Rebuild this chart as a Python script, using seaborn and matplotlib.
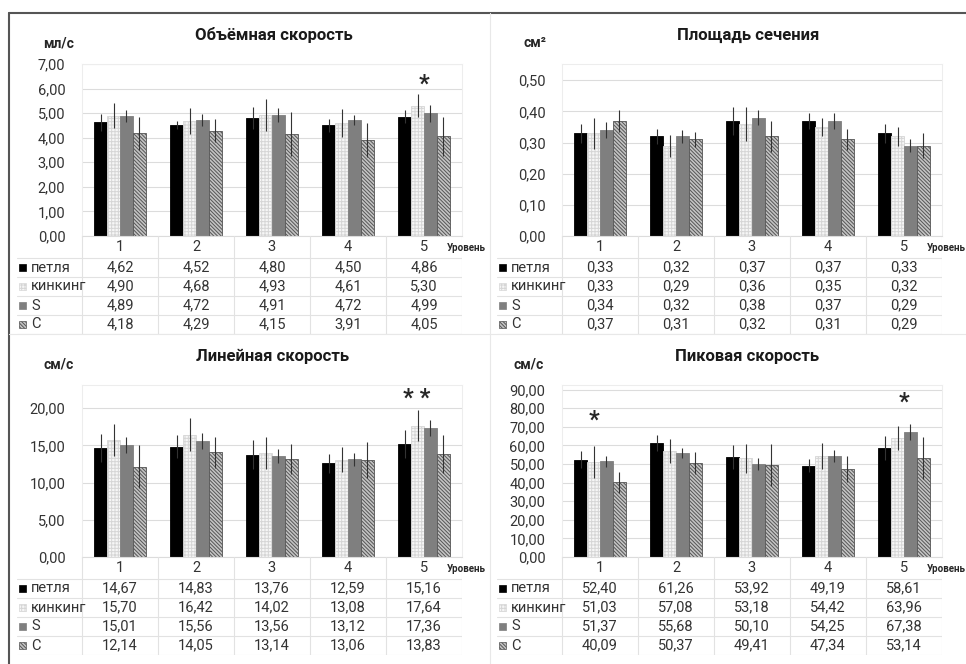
import numpy as np
import pandas as pd
import matplotlib
matplotlib.use("Agg")
import matplotlib.pyplot as plt
import seaborn as sns
from matplotlib.patches import Rectangle
from matplotlib.lines import Line2D
from matplotlib.ticker import FuncFormatter, MultipleLocator

# ==========================
#  Данные
# ==========================
levels = ["1", "2", "3", "4", "5"]
series = ["петля", "кинкинг", "S", "C"]

# Объёмная скорость, мл/с
vol_petlya = [4.62, 4.52, 4.80, 4.50, 4.86]
vol_kinking = [4.90, 4.68, 4.93, 4.61, 5.30]
vol_s = [4.89, 4.72, 4.91, 4.72, 4.99]
vol_c = [4.18, 4.29, 4.15, 3.91, 4.05]
vol_err_petlya = [0.35, 0.18, 0.45, 0.28, 0.28]
vol_err_kinking = [0.50, 0.52, 0.64, 0.57, 0.47]
vol_err_s = [0.25, 0.24, 0.28, 0.21, 0.35]
vol_err_c = [0.66, 0.48, 0.88, 0.68, 0.79]

# Площадь сечения, см²
area_petlya = [0.33, 0.32, 0.37, 0.37, 0.33]
area_kinking = [0.33, 0.29, 0.36, 0.35, 0.32]
area_s = [0.34, 0.32, 0.38, 0.37, 0.29]
area_c = [0.37, 0.31, 0.32, 0.31, 0.29]
area_err_petlya = [0.030, 0.025, 0.045, 0.025, 0.030]
area_err_kinking = [0.050, 0.035, 0.055, 0.030, 0.030]
area_err_s = [0.025, 0.020, 0.025, 0.025, 0.020]
area_err_c = [0.035, 0.025, 0.050, 0.035, 0.040]

# Линейная скорость, см/с
lin_petlya = [14.67, 14.83, 13.76, 12.59, 15.16]
lin_kinking = [15.70, 16.42, 14.02, 13.08, 17.64]
lin_s = [15.01, 15.56, 13.56, 13.12, 17.36]
lin_c = [12.14, 14.05, 13.14, 13.06, 13.83]
lin_err_petlya = [1.85, 1.55, 2.00, 1.30, 1.90]
lin_err_kinking = [2.15, 2.20, 2.15, 1.65, 2.05]
lin_err_s = [1.10, 1.10, 0.95, 0.90, 1.10]
lin_err_c = [2.85, 2.10, 2.00, 2.45, 2.50]

# Пиковая скорость, см/с
peak_petlya = [52.40, 61.26, 53.92, 49.19, 58.61]
peak_kinking = [51.03, 57.08, 53.18, 54.42, 63.96]
peak_s = [51.37, 55.68, 50.10, 54.25, 67.38]
peak_c = [40.09, 50.37, 49.41, 47.34, 53.14]
peak_err_petlya = [4.4, 4.4, 6.5, 3.4, 6.7]
peak_err_kinking = [8.5, 6.4, 7.8, 6.9, 6.4]
peak_err_s = [2.9, 2.7, 3.2, 3.4, 4.4]
peak_err_c = [5.7, 5.9, 11.3, 6.9, 11.4]

titles = ["Объёмная скорость", "Площадь сечения", "Линейная скорость", "Пиковая скорость"]
units = ["мл/с", "см²", "см/с", "см/с"]

# звёздочки значимости: (позиция уровня, высота, текст)
stars_vol = [(4.0, 6.2, "*")]
stars_area = []
stars_lin = [(3.9, 21.3, "* *")]
stars_peak = [(-0.08, 73.5, "*"), (4.0, 83.5, "*")]

panels = [
    ([vol_petlya, vol_kinking, vol_s, vol_c],
     [vol_err_petlya, vol_err_kinking, vol_err_s, vol_err_c], stars_vol),
    ([area_petlya, area_kinking, area_s, area_c],
     [area_err_petlya, area_err_kinking, area_err_s, area_err_c], stars_area),
    ([lin_petlya, lin_kinking, lin_s, lin_c],
     [lin_err_petlya, lin_err_kinking, lin_err_s, lin_err_c], stars_lin),
    ([peak_petlya, peak_kinking, peak_s, peak_c],
     [peak_err_petlya, peak_err_kinking, peak_err_s, peak_err_c], stars_peak),
]

# ==========================
#  Оформление
# ==========================
sns.set_theme(style="white")
plt.rcParams["font.family"] = ["Roboto", "DejaVu Sans"]
plt.rcParams["hatch.linewidth"] = 0.7

W, H = 966, 664
TXT = "#333333"
GRID = "#dcdcdc"

styles = {
    "петля": dict(fc="#000000", ec="#000000", hatch=None),
    "кинкинг": dict(fc="#f6f6f6", ec="#d6d6d6", hatch="+++++"),
    "S": dict(fc="#7f7f7f", ec="#7f7f7f", hatch=None),
    "C": dict(fc="#c4c4c4", ec="#555555", hatch="\\\\\\\\\\\\\\\\\\"),
}

ylims = [7.0, 0.552, 23.1, 92.5]
steps = [1.0, 0.1, 5.0, 10.0]
offsets = [(0, 0), (480, 0), (0, 321), (480, 321)]
unit_x = [43, 523, 43, 513]
title_x = [274, 748, 273, 747]


def rect(left, top, right, bottom):
    return [left / W, 1 - bottom / H, (right - left) / W, (bottom - top) / H]


comma = FuncFormatter(lambda v, p: f"{v:.2f}".replace(".", ","))

fig = plt.figure(figsize=(W / 100, H / 100), dpi=100)

for k, (values, errors, stars) in enumerate(panels):
    dx, dy = offsets[k]
    bl, bt, br, bb = 82 + dx, 64 + dy, 462 + dx, 236 + dy
    ax = fig.add_axes(rect(bl, bt, br, bb))

    df = pd.DataFrame({
        "level": np.tile(levels, len(series)),
        "series": np.repeat(series, len(levels)),
        "value": np.concatenate(values),
    })
    sns.barplot(data=df, x="level", y="value", hue="series", order=levels,
                hue_order=series, width=0.68, errorbar=None, legend=False,
                palette=[styles[s]["fc"] for s in series], ax=ax)

    for j, s in enumerate(series):
        st = styles[s]
        bars = ax.containers[j]
        for b in bars:
            b.set_facecolor(st["fc"])
            b.set_edgecolor(st["ec"])
            b.set_linewidth(0.6)
            if st["hatch"]:
                b.set_hatch(st["hatch"])
        xs = [b.get_x() + b.get_width() / 2 for b in bars]
        ys = [b.get_height() for b in bars]
        ax.errorbar(xs, ys, yerr=errors[j], fmt="none", ecolor="#333333",
                    elinewidth=0.8, capsize=0, zorder=5)

    ax.set_xlim(-0.5, 4.5)
    ax.set_ylim(0, ylims[k])
    ax.yaxis.set_major_locator(MultipleLocator(steps[k]))
    ax.yaxis.set_major_formatter(comma)
    ax.yaxis.grid(True, color=GRID, lw=0.8)
    ax.set_axisbelow(True)
    ax.set_xticks([])
    ax.set_xlabel("")
    ax.set_ylabel("")
    ax.tick_params(axis="y", length=0, pad=12, labelsize=10.5, labelcolor=TXT)
    for name, sp in ax.spines.items():
        sp.set_color("#ededed" if name != "bottom" else GRID)
        sp.set_linewidth(0.8)

    for sx, sy, st_txt in stars:
        ax.text(sx, sy, st_txt, ha="center", va="center", fontsize=17,
                fontweight="bold", color="#262626")

    fig.text(title_x[k] / W, 1 - (35 + dy) / H, titles[k], ha="center",
             va="center", fontsize=12, fontweight="bold", color="#1a1a1a")
    fig.text(unit_x[k] / W, 1 - (43 + dy) / H, units[k], ha="left",
             va="center", fontsize=10, fontweight="bold", color="#262626")

    # --- таблица данных под графиком ---
    tl, tt, tb = 17 + dx, 236 + dy, 334 + dy
    ppu = (br - bl) / 5.0
    xl = -0.5 - (bl - tl) / ppu
    axt = fig.add_axes(rect(tl, tt, br, tb))
    axt.set_xlim(xl, 4.5)
    axt.set_ylim(98, 0)
    axt.axis("off")

    for xb in np.arange(-0.5, 5.0, 1.0):
        axt.plot([xb, xb], [0, 98], color="#e2e2e2", lw=0.8)
    for yb in [22, 41, 60, 79, 98]:
        axt.plot([xl, 4.5], [yb, yb], color="#e2e2e2", lw=0.8)

    for i, lv in enumerate(levels):
        axt.text(i, 11, lv, ha="center", va="center", fontsize=10.5, color=TXT)
    axt.text(4.5 - 15 / ppu, 12, "Уровень", ha="left", va="center",
             fontsize=7, fontweight="bold", color="#262626", clip_on=False)

    for r, s in enumerate(series):
        yc = 22 + 19 * r + 9.5
        st = styles[s]
        axt.add_patch(Rectangle((xl + 2 / ppu, yc - 3.5), 7 / ppu, 7,
                                facecolor=st["fc"], edgecolor=st["ec"],
                                hatch=st["hatch"], lw=0.5))
        axt.text(xl + 14 / ppu, yc, s, ha="left", va="center", fontsize=10.5,
                 color=TXT)
        for i in range(len(levels)):
            axt.text(i, yc, f"{values[r][i]:.2f}".replace(".", ","),
                     ha="center", va="center", fontsize=10.5, color=TXT)

# рамка и разделители
fig.add_artist(Line2D([9 / W, 1], [1 - 13 / H, 1 - 13 / H],
                      transform=fig.transFigure, color="#555555", lw=1.5))
fig.add_artist(Line2D([9 / W, 9 / W], [0, 1 - 13 / H],
                      transform=fig.transFigure, color="#555555", lw=1.5))
fig.add_artist(Line2D([490 / W, 490 / W], [0, 1 - 13 / H],
                      transform=fig.transFigure, color="#e8e8e8", lw=0.8))
fig.add_artist(Line2D([9 / W, 1], [1 - 334 / H, 1 - 334 / H],
                      transform=fig.transFigure, color="#e8e8e8", lw=0.8))

fig.savefig("out.png", dpi=100, facecolor="white")
